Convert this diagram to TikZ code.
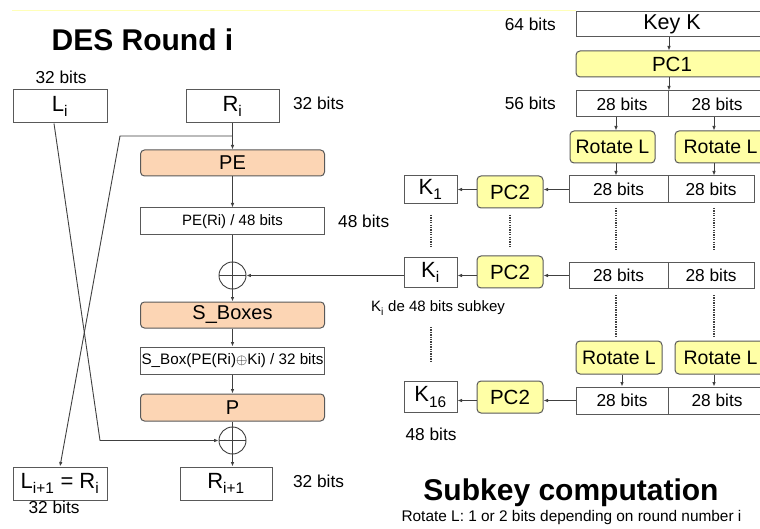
\documentclass[tikz,border=0pt]{standalone}
\usepackage{fontspec}
\setmainfont{Liberation Sans}
\usetikzlibrary{arrows.meta,calc}
\definecolor{boxline}{HTML}{595959}
\definecolor{wirec}{HTML}{404040}
\definecolor{peach}{HTML}{FCD5B4}
\definecolor{lemon}{HTML}{FFFFA6}
\definecolor{toprule}{HTML}{FFFFB8}
% subscript set a little lower than the default one
\newcommand\dsub[1]{\textsubscript{\raisebox{-2pt}{#1}}}

\begin{document}
\begin{tikzpicture}[x=1pt,y=-1pt,
  fs/.style={font=\fontsize{#1}{#1}\selectfont},
  wbox/.style={draw=boxline,line width=1pt,fill=white,inner sep=0pt},
  obox/.style={draw=boxline,line width=1pt,fill=peach,rounded corners=4pt,inner sep=0pt},
  ybox/.style={draw=boxline,line width=1pt,fill=lemon,rounded corners=4pt,inner sep=0pt},
  wire/.style={draw=wirec,line width=0.9pt},
  arr/.style={wire,-{Latex[length=4.5pt,width=3.6pt]}},
  dots/.style={draw=wirec,line width=1.8pt,dash pattern=on 1.3pt off 1.1pt},
  xor/.style={circle,draw=wirec,line width=0.9pt,minimum size=27pt,inner sep=0pt,
    path picture={\draw[wirec,line width=0.9pt]
      (path picture bounding box.north) -- (path picture bounding box.south)
      (path picture bounding box.west) -- (path picture bounding box.east);}},
  lbl/.style={fs=17.3,inner sep=0pt,anchor=base}]

\useasboundingbox (0,0) rectangle (760,529);
\fill[white] (0,0) rectangle (760,529);

% thin rule along the top
\draw[toprule,line width=1pt] (12,11) -- (576,11);

% ---------- DES round ----------
\node[font=\fontsize{30}{30}\selectfont\bfseries,anchor=base,inner sep=0pt] (title1) at (142.5,51) {DES Round i};

\node[wbox,minimum width=94pt,minimum height=33pt,fs=22] (Li) at (60,106.5) {L\dsub{i}};
\node[wbox,minimum width=93pt,minimum height=33pt,fs=22] (Ri) at (232.5,106.5) {R\dsub{i}};
\node[lbl] (bLi) at (61,84) {32 bits};
\node[lbl] (bRi) at (318.5,110) {32 bits};

\node[obox,minimum width=184pt,minimum height=26pt,fs=20] (PE) at (232.5,163) {PE};
\node[wbox,minimum width=184pt,minimum height=27pt,fs=15] (PEo) at (232.5,221.5) {PE(Ri) / 48 bits};
\node[lbl,anchor=base west] (bPE) at (338,228) {48 bits};
\node[xor] (X1) at (232.5,275.5) {};
\node[obox,minimum width=184pt,minimum height=26pt,fs=20] (SB) at (232.5,315) {S\_Boxes};
\node[wbox,minimum width=184pt,minimum height=27pt,fs=15.2] (SBo) at (232.5,360.5) {S\_Box(PE(Ri)$\oplus$Ki) / 32 bits};
\node[obox,minimum width=184pt,minimum height=27pt,fs=20] (P) at (232.5,407.5) {P};
\node[xor] (X2) at (232.5,440.5) {};

\node[wbox,minimum width=94pt,minimum height=33pt,fs=22] (Ln) at (60,483.5) {L\dsub{i+1} = R\dsub{i}};
\node[wbox,minimum width=92pt,minimum height=33pt,fs=22] (Rn) at (226,483.5) {R\dsub{i+1}};
\node[lbl] (bLn) at (54,513) {32 bits};
\node[lbl] (bRn) at (318.5,487) {32 bits};

% data path
\draw[arr] (Ri.south) -- (PE.north);
\draw[arr] (PE.south) -- (PEo.north);
\draw[wire] (PEo.south) -- (X1.north);
\draw[arr] (X1.south) -- (SB.north);
\draw[arr] (SB.south) -- (SBo.north);
\draw[arr] (SBo.south) -- (P.north);
\draw[wire] (P.south) -- (X2.north);
\draw[arr] (X2.south) -- (X2.south |- Rn.north);

% swap of the halves
\coordinate (rtap) at (Ri.south |- 0,136);
\coordinate (rturn) at (120,136);
\draw[arr] (rtap) -- (rturn) -- (Ln.north);
\coordinate (lfoot) at (54,0 |- Li.south);
\coordinate (lturn) at (100,0 |- X2);
\draw[arr] (lfoot) -- (lturn) -- (X2.west);

% ---------- subkey computation ----------
% boxes on the right run past the page edge
\node[lbl,anchor=base east] (b64) at (556,31) {64 bits};
\node[wbox,minimum width=192pt,minimum height=25pt,fs=21.5] (KK) at (672,24.5) {Key K};
\node[ybox,minimum width=192pt,minimum height=26pt,fs=20.5] (PC1) at (672,64) {PC1};

\node[lbl,anchor=base east] (b56) at (556,110) {56 bits};
\node[wbox,minimum width=92pt,minimum height=26pt,fs=17.3] (r1a) at (622,104) {28 bits};
\node[wbox,minimum width=98pt,minimum height=26pt,fs=17.3] (r1b) at (717,104) {28 bits};

\node[ybox,minimum width=85pt,minimum height=32pt,fs=19.5] (rot1a) at (612.5,147) {Rotate L};
\node[ybox,minimum width=91pt,minimum height=32pt,fs=19.5] (rot1b) at (720.5,147) {Rotate L};

\node[wbox,minimum width=99pt,minimum height=27pt,fs=17.3] (r2a) at (618.5,189.5) {28 bits};
\node[wbox,minimum width=86pt,minimum height=27pt,fs=17.3] (r2b) at (711,189.5) {28 bits};
\node[ybox,minimum width=66pt,minimum height=32pt,fs=20.5] (PC2a) at (510,192) {PC2};
\node[wbox,minimum width=53pt,minimum height=28pt,fs=22] (K1) at (430.5,189.5) {K\dsub{1}};

\node[wbox,minimum width=99pt,minimum height=26pt,fs=17.3] (r3a) at (618.5,275.5) {28 bits};
\node[wbox,minimum width=86pt,minimum height=26pt,fs=17.3] (r3b) at (711,275.5) {28 bits};
\node[ybox,minimum width=66pt,minimum height=32pt,fs=20.5] (PC2b) at (510,272) {PC2};
\node[wbox,minimum width=53pt,minimum height=30pt,fs=22] (Ki) at (430.5,272.5) {K\dsub{i}};
\node[fs=15,inner sep=0pt,anchor=base west] (subk) at (371,311) {K\dsub{i} de 48 bits subkey};

\node[ybox,minimum width=86pt,minimum height=33pt,fs=19.5] (rot4a) at (619,357.5) {Rotate L};
\node[ybox,minimum width=91pt,minimum height=33pt,fs=19.5] (rot4b) at (720.5,357.5) {Rotate L};

\node[wbox,minimum width=92pt,minimum height=27pt,fs=17.3] (r5a) at (622,400.5) {28 bits};
\node[wbox,minimum width=98pt,minimum height=27pt,fs=17.3] (r5b) at (717,400.5) {28 bits};
\node[ybox,minimum width=66pt,minimum height=32pt,fs=20.5] (PC2c) at (510,397) {PC2};
\node[wbox,minimum width=53pt,minimum height=31pt,fs=22] (K16) at (430.5,397) {K\dsub{16}};
\node[lbl] (b48) at (431,440) {48 bits};

\node[font=\fontsize{30}{30}\selectfont\bfseries,anchor=base,inner sep=0pt] (title2) at (571,500) {Subkey computation};
\node[fs=15.4,inner sep=0pt,anchor=base] (note) at (571.5,521) {Rotate L: 1 or 2 bits depending on round number i};

% key schedule connectors
\draw[arr] (669,0 |- KK.south) -- (669,0 |- PC1.north);
\draw[arr] (669,0 |- PC1.south) -- (669,0 |- r1a.north);
\draw[arr] (616,0 |- r1a.south) -- (616,0 |- rot1a.north);
\draw[arr] (714,0 |- r1b.south) -- (714,0 |- rot1b.north);
\draw[arr] (616,0 |- rot1a.south) -- (616,0 |- r2a.north);
\draw[arr] (714,0 |- rot1b.south) -- (714,0 |- r2b.north);

\draw[arr] (r2a.west) -- (r2a.west -| PC2a.east);
\draw[arr] (PC2a.west |- r2a.west) -- (K1.east);
\draw[arr] (r3a.west) -- (r3a.west -| PC2b.east);
\draw[arr] (PC2b.west |- r3a.west) -- (Ki.east |- r3a.west);
\draw[arr] (Ki.west |- X1) -- (X1.east);
\draw[arr] (622,0 |- rot4a.south) -- (622,0 |- r5a.north);
\draw[arr] (714,0 |- rot4b.south) -- (714,0 |- r5b.north);
\draw[arr] (r5a.west) -- (r5a.west -| PC2c.east);
\draw[arr] (PC2c.west |- r5a.west) -- (K16.east |- r5a.west);

% elided rounds
\draw[dots] (431,215) -- (431,248);
\draw[dots] (510,215) -- (510,248);
\draw[dots] (616,208) -- (616,251);
\draw[dots] (714,208) -- (714,251);
\draw[dots] (616,295) -- (616,337);
\draw[dots] (714,295) -- (714,337);
\draw[dots] (431,327) -- (431,361);
\end{tikzpicture}
\end{document}
